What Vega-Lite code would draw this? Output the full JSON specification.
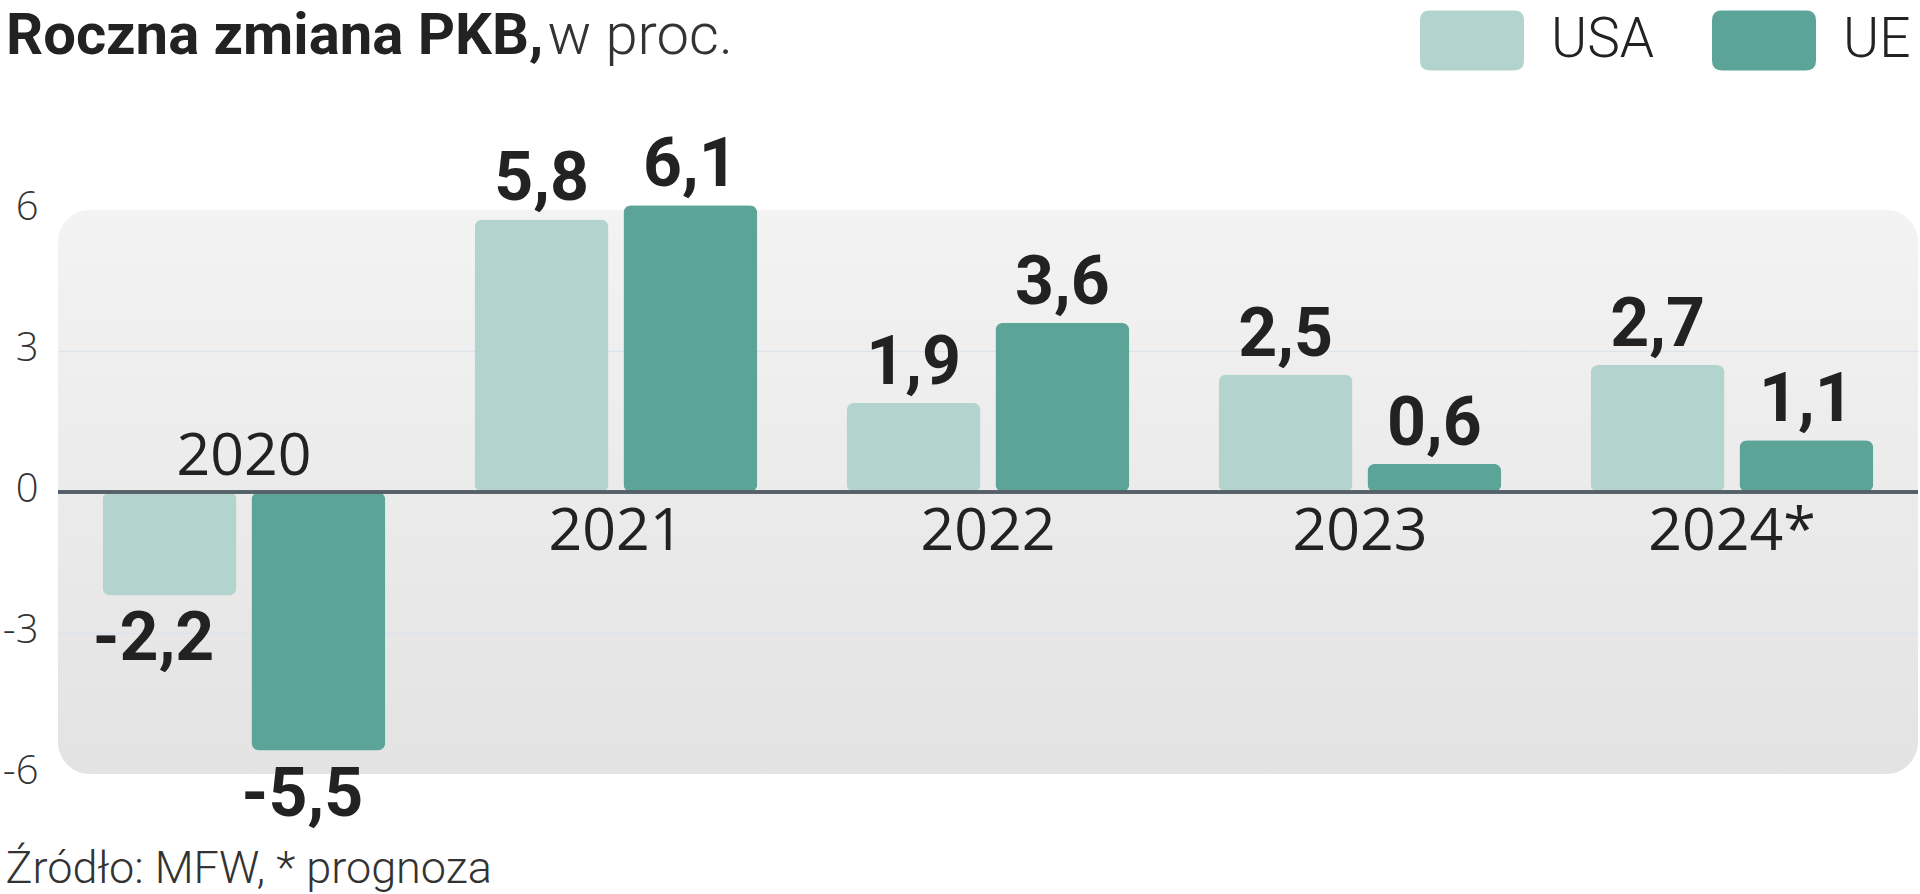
{
  "$schema": "https://vega.github.io/schema/vega-lite/v6.json",
  "width": 1860,
  "height": 564,
  "autosize": {"type": "none"},
  "padding": {"left": 58, "top": 210, "right": 2, "bottom": 120},
  "background": "#ffffff",
  "title": {
    "text": "Roczna zmiana PKB,",
    "anchor": "start",
    "frame": "group",
    "dx": -52,
    "dy": 124,
    "font": "Roboto",
    "fontWeight": "bold",
    "fontSize": 58,
    "color": "#222222",
    "baseline": "alphabetic",
    "offset": 0
  },
  "data": {
    "values": [
      {"year": "2020", "series": "USA", "value": -2.2},
      {"year": "2020", "series": "UE", "value": -5.5},
      {"year": "2021", "series": "USA", "value": 5.8},
      {"year": "2021", "series": "UE", "value": 6.1},
      {"year": "2022", "series": "USA", "value": 1.9},
      {"year": "2022", "series": "UE", "value": 3.6},
      {"year": "2023", "series": "USA", "value": 2.5},
      {"year": "2023", "series": "UE", "value": 0.6},
      {"year": "2024*", "series": "USA", "value": 2.7},
      {"year": "2024*", "series": "UE", "value": 1.1}
    ]
  },
  "encoding": {
    "x": {
      "field": "year",
      "type": "nominal",
      "sort": null,
      "scale": {"paddingInner": 0.24, "paddingOuter": 0.12},
      "axis": {
        "labels": false,
        "ticks": false,
        "domain": false,
        "grid": false,
        "title": "Źródło: MFW, * prognoza",
        "titleAnchor": "start",
        "titleAlign": "left",
        "titleBaseline": "alphabetic",
        "titleX": -53,
        "titleY": 108,
        "titleFont": "Roboto",
        "titleFontWeight": 300,
        "titleFontSize": 45,
        "titleColor": "#333333"
      }
    },
    "y": {
      "field": "value",
      "type": "quantitative",
      "scale": {"domain": [-6, 6], "nice": false, "zero": false},
      "axis": {
        "values": [-6, -3, 0, 3, 6],
        "format": "d",
        "domain": false,
        "ticks": false,
        "labelPadding": 20,
        "labelFont": "Open Sans",
        "labelFontWeight": 300,
        "labelFontSize": 40,
        "labelBaseline": "alphabetic",
        "labelOffset": 9,
        "labelColor": "#333333",
        "grid": true,
        "gridColor": "#dde3ea",
        "gridWidth": 1.5,
        "gridOpacity": {"condition": {"test": "abs(datum.value) == 3", "value": 1}, "value": 0},
        "title": "w proc.",
        "titleAngle": 0,
        "titleAlign": "left",
        "titleBaseline": "alphabetic",
        "titleX": 489,
        "titleY": -157,
        "titleFont": "Roboto",
        "titleFontWeight": 300,
        "titleFontSize": 58,
        "titleColor": "#333333"
      }
    }
  },
  "layer": [
    {
      "mark": {"type": "bar", "cornerRadius": 8},
      "encoding": {
        "xOffset": {"field": "series", "type": "nominal", "sort": ["USA", "UE"], "scale": {"paddingInner": 0.1, "paddingOuter": 0}},
        "color": {
          "field": "series",
          "type": "nominal",
          "sort": ["USA", "UE"],
          "scale": {"domain": ["USA", "UE"], "range": ["#b2d3ce", "#5ca498"]},
          "legend": {
            "title": null,
            "orient": "none",
            "direction": "horizontal",
            "legendX": 1362,
            "legendY": -222,
            "symbolType": "M-0.81,-0.577 L0.81,-0.577 Q1,-0.577 1,-0.387 L1,0.387 Q1,0.577 0.81,0.577 L-0.81,0.577 Q-1,0.577 -1,0.387 L-1,-0.387 Q-1,-0.577 -0.81,-0.577 Z",
            "symbolSize": 10816,
            "symbolStrokeWidth": 0,
            "symbolOpacity": 1,
            "labelFont": "Roboto",
            "labelFontWeight": 300,
            "labelFontSize": 55,
            "labelColor": "#222222",
            "labelOffset": 27,
            "columnPadding": 57,
            "labelLimit": 400
          }
        }
      }
    },
    {
      "mark": {"type": "rule", "color": "#56606a", "strokeWidth": 2.5},
      "encoding": {"x": null, "y": {"datum": 0, "type": "quantitative"}}
    },
    {
      "transform": [{"filter": "datum.value >= 0"}],
      "mark": {"type": "text", "baseline": "alphabetic", "align": "center", "dy": -19, "font": "Roboto", "fontWeight": "bold", "fontSize": 68, "fill": "#222222"},
      "encoding": {
        "xOffset": {"field": "series", "type": "nominal", "sort": ["USA", "UE"], "scale": {"paddingInner": 0.1, "paddingOuter": 0}},
        "text": {"field": "value", "type": "quantitative", "format": ".1f"}
      }
    },
    {
      "transform": [{"filter": "datum.value < 0"}],
      "mark": {"type": "text", "baseline": "alphabetic", "align": "center", "dx": -16, "dy": 65, "font": "Roboto", "fontWeight": "bold", "fontSize": 68, "fill": "#222222"},
      "encoding": {
        "xOffset": {"field": "series", "type": "nominal", "sort": ["USA", "UE"], "scale": {"paddingInner": 0.1, "paddingOuter": 0}},
        "text": {"field": "value", "type": "quantitative", "format": ".1f"}
      }
    },
    {
      "transform": [{"filter": "datum.series == 'USA' && datum.value < 0"}],
      "mark": {"type": "text", "baseline": "alphabetic", "align": "center", "dy": -17, "font": "Open Sans", "fontSize": 59, "fill": "#222222"},
      "encoding": {
        "y": {"datum": 0, "type": "quantitative"},
        "text": {"field": "year", "type": "nominal"}
      }
    },
    {
      "transform": [{"filter": "datum.series == 'USA' && datum.value >= 0"}],
      "mark": {"type": "text", "baseline": "alphabetic", "align": "center", "dy": 58, "font": "Open Sans", "fontSize": 59, "fill": "#222222"},
      "encoding": {
        "y": {"datum": 0, "type": "quantitative"},
        "text": {"field": "year", "type": "nominal"}
      }
    }
  ],
  "config": {
    "locale": {"number": {"decimal": ",", "thousands": " ", "grouping": [3], "currency": ["", " zł"], "minus": "-"}},
    "view": {
      "stroke": null,
      "cornerRadius": 32,
      "fill": {"gradient": "linear", "x1": 0, "y1": 0, "x2": 0, "y2": 1, "stops": [{"offset": 0, "color": "#f3f3f3"}, {"offset": 1, "color": "#e3e3e3"}]}
    }
  }
}
